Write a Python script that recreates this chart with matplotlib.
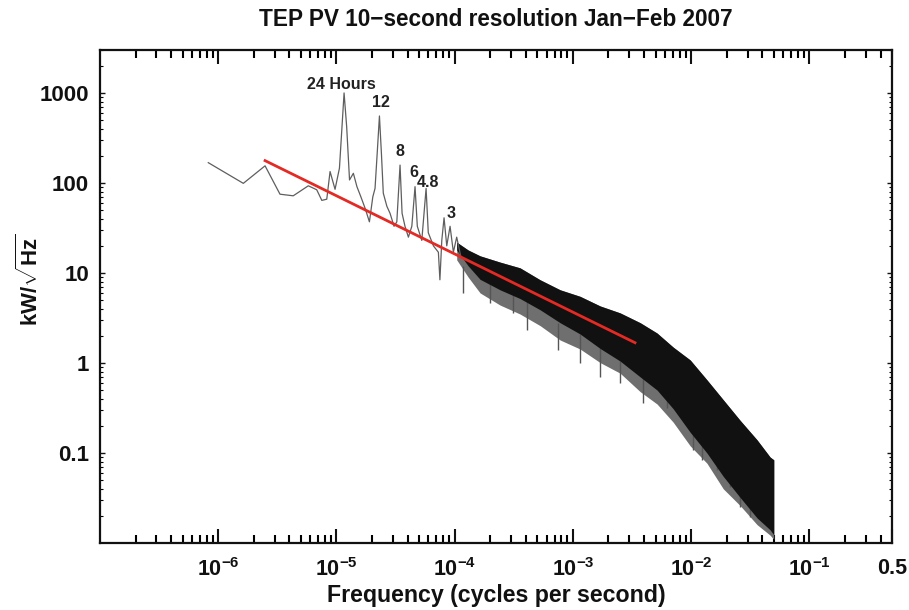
import numpy as np
import matplotlib
matplotlib.use('Agg')
import matplotlib.pyplot as plt
from matplotlib.ticker import FixedLocator, FixedFormatter, NullFormatter, LogLocator

plt.rcParams['font.family'] = ['Liberation Sans', 'DejaVu Sans']
plt.rcParams['font.weight'] = 'bold'
plt.rcParams['mathtext.fontset'] = 'custom'
plt.rcParams['mathtext.rm'] = 'Liberation Sans:bold'
plt.rcParams['mathtext.bf'] = 'Liberation Sans:bold'
plt.rcParams['mathtext.it'] = 'Liberation Sans:bold:italic'
plt.rcParams['mathtext.sf'] = 'Liberation Sans:bold'

# ---- low-frequency trace (Hz, kW/sqrt(Hz)) ----
low_freq = [8.24e-7, 1.63e-6, 2.49e-6, 3.33e-6, 4.31e-6, 5.78e-6, 6.81e-6, 7.52e-6,
            8.28e-6, 8.83e-6, 9.73e-6, 1.06e-5, 1.16e-5, 1.22e-5, 1.29e-5, 1.39e-5,
            1.49e-5, 1.61e-5, 1.75e-5, 1.90e-5, 2.03e-5, 2.12e-5, 2.22e-5, 2.31e-5,
            2.40e-5, 2.49e-5, 2.67e-5, 2.84e-5, 3.07e-5, 3.24e-5, 3.45e-5, 3.59e-5,
            3.80e-5, 4.06e-5, 4.34e-5, 4.62e-5, 4.83e-5, 5.27e-5, 5.73e-5, 5.98e-5,
            6.61e-5, 7.28e-5, 7.50e-5, 7.78e-5, 8.13e-5, 8.57e-5, 9.14e-5, 9.75e-5,
            1.04e-4, 1.13e-4]
low_amp = [168, 99, 155, 75, 72, 93, 84, 64,
           66, 134, 85, 146, 1000, 422, 108, 128,
           91, 70, 52, 37, 70, 87, 233, 555,
           214, 77, 55, 46, 33, 37, 158, 46,
           33, 25, 33, 91, 33, 23, 87, 28,
           20, 17, 8.4, 23, 41, 20, 33, 17,
           25, 15]

# ---- broadband noise envelope ----
band_freq = [1.04e-4, 1.30e-4, 1.64e-4, 2.42e-4, 3.57e-4, 5.28e-4, 7.80e-4, 1.15e-3,
             1.70e-3, 2.51e-3, 3.71e-3, 5.15e-3, 7.05e-3, 9.82e-3, 1.36e-2, 1.87e-2,
             2.60e-2, 3.61e-2, 4.66e-2, 5.0e-2]
band_upper = [22, 18, 15.5, 13.2, 11.4, 8.4, 6.5, 5.5,
              4.3, 3.6, 2.8, 2.15, 1.5, 1.08, 0.65, 0.39,
              0.23, 0.14, 0.090, 0.084]
band_lower = [18, 12, 8.5, 6.5, 5.2, 3.9, 2.8, 2.1,
              1.45, 1.05, 0.70, 0.50, 0.31, 0.17, 0.10, 0.055,
              0.032, 0.019, 0.014, 0.0123]
band_fringe = [14, 9.0, 6.0, 4.4, 3.5, 2.6, 1.8, 1.43,
               1.01, 0.77, 0.48, 0.35, 0.22, 0.12, 0.077, 0.040,
               0.026, 0.016, 0.0122, 0.011]

# ---- individual deep downward spikes ----
spike_freq = [1.18e-4, 1.99e-4, 3.12e-4, 4.10e-4, 7.50e-4, 1.15e-3, 1.70e-3, 2.51e-3,
              3.93e-3, 6.27e-3, 8.07e-3, 1.04e-2, 1.24e-2, 1.66e-2, 2.14e-2, 2.60e-2,
              3.15e-2]
spike_amp = [6.0, 4.6, 3.6, 2.33, 1.39, 1.0, 0.70, 0.60,
             0.36, 0.32, 0.25, 0.108, 0.084, 0.065, 0.042, 0.025,
             0.0195]
spike_top = [12, 8.0, 6.0, 5.0, 2.8, 2.1, 1.45, 1.05,
             0.70, 0.45, 0.33, 0.17, 0.13, 0.09, 0.06, 0.035,
             0.025]

# ---- power-law fit ----
fit_freq = [2.49e-6, 3.35e-3]
fit_amp = [177, 1.68]

# ---- peak annotations ----
peak_labels = ['24 Hours', '12', '8', '6', '4.8', '3']
peak_label_freq = [1.10e-5, 2.36e-5, 3.45e-5, 4.50e-5, 5.95e-5, 9.4e-5]
peak_label_amp = [1230, 780, 221, 132, 100, 46]

x_ticks = [1e-6, 1e-5, 1e-4, 1e-3, 1e-2, 1e-1, 0.5]
x_ticklabels = [r'$10^{-6}$', r'$10^{-5}$', r'$10^{-4}$', r'$10^{-3}$',
                r'$10^{-2}$', r'$10^{-1}$', '0.5']
y_ticks = [0.1, 1, 10, 100, 1000]
y_ticklabels = ['0.1', '1', '10', '100', '1000']

fig = plt.figure(figsize=(9.09, 6.10), dpi=100)
ax = fig.add_axes([100/909, 1 - 543/610, (892-100)/909, (543-50)/610])

ax.set_xscale('log')
ax.set_yscale('log')
ax.set_xlim(1e-7, 0.5)
ax.set_ylim(0.01, 3000)

ax.fill_between(band_freq, band_fringe, band_upper, color='#6f6f6f', lw=0, zorder=2)
ax.fill_between(band_freq, band_lower, band_upper, color='#111111', lw=0, zorder=3)
ax.vlines(spike_freq, spike_amp, spike_top, color='#555555', lw=1.0, zorder=2.5)
ax.plot(low_freq, low_amp, color='#5e5e5e', lw=0.9, zorder=4)
ax.plot(fit_freq, fit_amp, color='#e32a24', lw=2.0, zorder=5)

for lab, fx, fy in zip(peak_labels, peak_label_freq, peak_label_amp):
    ax.text(fx, fy, lab, ha='center', va='center', fontsize=11.5,
            fontweight='bold', color='#222222', zorder=6)

ax.xaxis.set_major_locator(FixedLocator(x_ticks))
ax.xaxis.set_major_formatter(FixedFormatter(x_ticklabels))
ax.xaxis.set_minor_locator(LogLocator(base=10, subs=np.arange(2, 10), numticks=20))
ax.xaxis.set_minor_formatter(NullFormatter())
ax.yaxis.set_major_locator(FixedLocator(y_ticks))
ax.yaxis.set_major_formatter(FixedFormatter(y_ticklabels))
ax.yaxis.set_minor_locator(LogLocator(base=10, subs=np.arange(2, 10), numticks=20))
ax.yaxis.set_minor_formatter(NullFormatter())

ax.tick_params(axis='x', which='major', direction='in', length=10, width=1.5,
               top=True, bottom=True, labelsize=15.5, pad=11, colors='#111111')
ax.tick_params(axis='x', which='minor', direction='in', length=6, width=1.5,
               top=True, bottom=True)
ax.tick_params(axis='y', which='major', direction='in', length=3.5, width=1.0,
               left=True, right=True, labelsize=16, pad=8, colors='#111111')
ax.tick_params(axis='y', which='minor', direction='in', length=2, width=0.8,
               left=True, right=True)
for s in ax.spines.values():
    s.set_linewidth(1.6)
    s.set_color('#111111')

ax.set_xlabel('Frequency (cycles per second)', fontsize=16.7, fontweight='bold',
              labelpad=2, color='#111111')
ax.set_ylabel(r'kW/$\sqrt{\mathrm{Hz}}$', fontsize=16, fontweight='bold',
              color='#111111')
ax.yaxis.set_label_coords(-0.072, 0.533)
fig.text(496/909, 1 - 20/610, 'TEP PV 10\u2212second resolution Jan\u2212Feb 2007',
         ha='center', va='center', fontsize=16.3, fontweight='bold', color='#111111')

fig.savefig('out.png', dpi=100)
